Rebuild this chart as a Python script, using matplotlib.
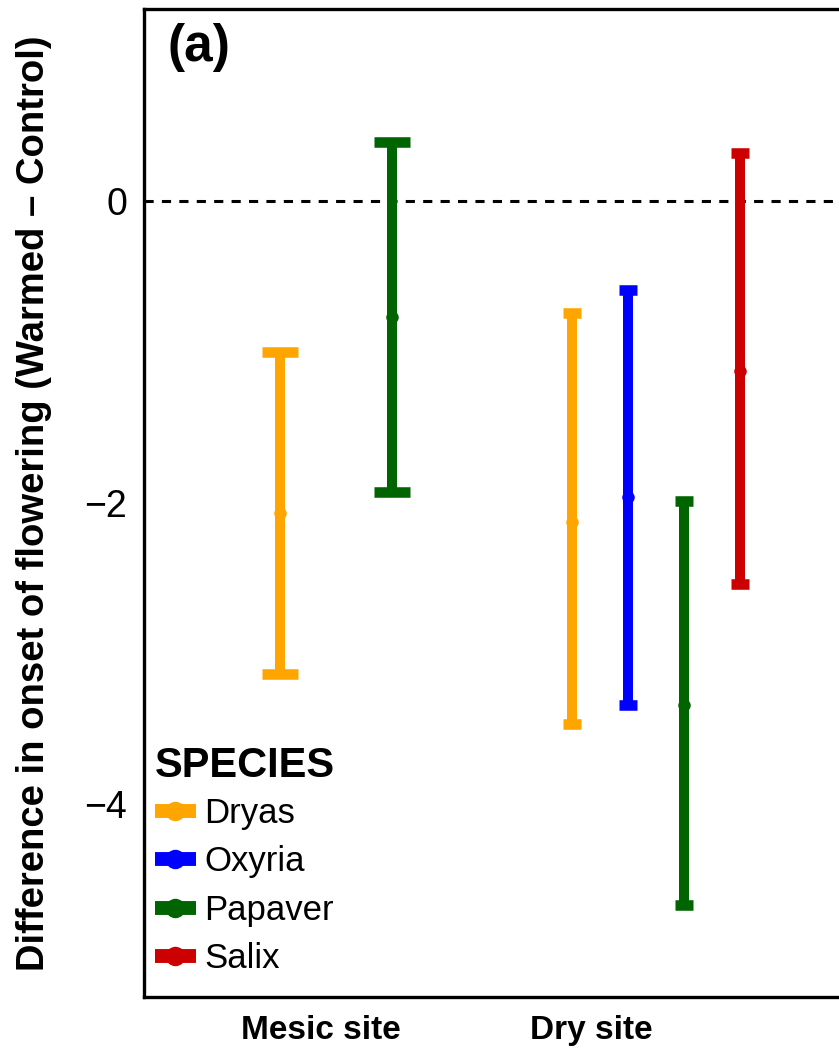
import matplotlib
matplotlib.use("Agg")
import matplotlib.pyplot as plt
import matplotlib.transforms as mtransforms
from matplotlib.lines import Line2D

plt.rcParams["font.family"] = ["Liberation Sans", "DejaVu Sans"]

# Sites on the x axis and species in the legend
sites = ["Mesic site", "Dry site"]
species = ["Dryas", "Oxyria", "Papaver", "Salix"]
species_colors = ["#FFA500", "#0000FF", "#006400", "#CD0000"]

# Warmed - Control difference in onset of flowering (mean and interval)
mesic_species = ["Dryas", "Papaver"]
mesic_mean = [-2.07, -0.77]
mesic_lower = [-3.14, -1.93]
mesic_upper = [-1.00, 0.39]

dry_species = ["Dryas", "Oxyria", "Papaver", "Salix"]
dry_mean = [-2.13, -1.96, -3.34, -1.13]
dry_lower = [-3.47, -3.34, -4.67, -2.54]
dry_upper = [-0.74, -0.59, -1.99, 0.32]

y_ticks = [-4, -2, 0]

groups = [
    (mesic_species, mesic_mean, mesic_lower, mesic_upper),
    (dry_species, dry_mean, dry_lower, dry_upper),
]
color_of = dict(zip(species, species_colors))

W, H = 839, 1051
fig = plt.figure(figsize=(W / 100, H / 100), dpi=100)
ax_left, ax_right, ax_top, ax_bottom = 144, 848, 9, 997
ax = fig.add_axes([ax_left / W, 1 - ax_bottom / H,
                   (ax_right - ax_left) / W, (ax_bottom - ax_top) / H])

dodge = 0.7
bar_lw = 7.2
cap_lw = 7.6
for gi, (sp, mean, lo, hi) in enumerate(groups):
    n = len(sp)
    slot = dodge / n
    for i, name in enumerate(sp):
        x = (gi + 1) + (i - (n - 1) / 2) * slot
        c = color_of[name]
        half = 0.165 * slot
        ax.vlines(x, lo[i], hi[i], color=c, lw=bar_lw, capstyle="butt", zorder=3)
        ax.hlines([lo[i], hi[i]], x - half, x + half, color=c, lw=cap_lw,
                  capstyle="butt", zorder=3)
        ax.plot([x], [mean[i]], "o", color=c, ms=9, mec="none", zorder=4)

ax.axhline(0, color="black", lw=2.2, ls=(0, (3, 2.7)), zorder=1)

ax.set_xlim(0.4, 2.6)
ax.set_ylim(-5.279, 1.273)
ax.set_yticks(y_ticks)
ax.set_yticklabels([f"\u2212{abs(t)}" if t < 0 else str(t) for t in y_ticks])
ax.set_xticks([1, 2])
ax.set_xticklabels(sites, fontweight="bold", fontsize=24)
ax.tick_params(axis="y", length=0, pad=12, labelsize=27)
ax.tick_params(axis="x", length=0, pad=13)

# nudge the site labels left
for lab, dx in zip(ax.get_xticklabels(), [-15, -65]):
    lab.set_transform(lab.get_transform() +
                      mtransforms.ScaledTranslation(dx / 100, 0, fig.dpi_scale_trans))

for side in ["top", "bottom", "left", "right"]:
    ax.spines[side].set_linewidth(2.4)
    ax.spines[side].set_color("black")

ax.set_ylabel("Difference in onset of flowering (Warmed \u2013 Control)",
              fontsize=27.5, fontweight="bold")
ax.yaxis.set_label_coords((34 - ax_left) / (ax_right - ax_left), 0.5)
ax.yaxis.label.set_va("center")

fig.text(168 / W, 1 - 47 / H, "(a)", fontsize=37, fontweight="bold",
         ha="left", va="center")

handles = [Line2D([], [], color=c, lw=10, marker="o", ms=13,
                  solid_capstyle="butt") for c in species_colors]
leg = ax.legend(handles, species, title="SPECIES", loc="upper left",
                bbox_to_anchor=(155 / W, 1 - 746 / H),
                bbox_transform=fig.transFigure, frameon=False, fontsize=25,
                title_fontproperties={"weight": "bold", "size": 30},
                alignment="left", handlelength=1.18, handletextpad=0.23,
                labelspacing=0.44, borderpad=0.0, borderaxespad=0.0)
leg._legend_box.sep = 8

fig.savefig("out.png", dpi=100)
